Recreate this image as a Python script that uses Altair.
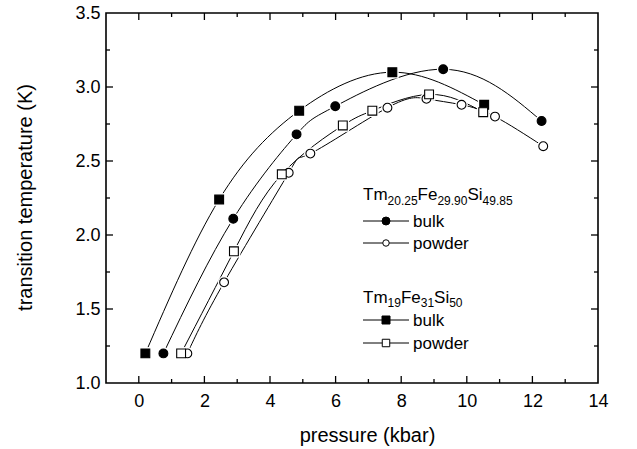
import altair as alt
import pandas as pd

FONT = "Liberation Sans"

# Tm20.25Fe29.90Si49.85
bulk_a_p = [0.75, 2.88, 4.81, 5.99, 9.28, 12.28]
bulk_a_t = [1.20, 2.11, 2.68, 2.87, 3.12, 2.77]
powder_a_p = [1.48, 2.60, 4.57, 5.23, 7.58, 8.77, 9.84, 10.86, 12.33]
powder_a_t = [1.20, 1.68, 2.42, 2.55, 2.86, 2.92, 2.88, 2.80, 2.60]

# Tm19Fe31Si50
bulk_b_p = [0.20, 2.45, 4.89, 7.73, 10.53]
bulk_b_t = [1.20, 2.24, 2.84, 3.10, 2.88]
powder_b_p = [1.29, 2.90, 4.36, 6.22, 7.12, 8.85, 10.50]
powder_b_t = [1.20, 1.89, 2.41, 2.74, 2.84, 2.95, 2.83]

# axis ticks
x_major = [0, 2, 4, 6, 8, 10, 12]
x_minor = [1, 3, 5, 7, 9, 11, 13]
y_major = [1.5, 2.0, 2.5, 3.0]
y_minor = [1.25, 1.75, 2.25, 2.75, 3.25]

W, H = 492, 370

xs = alt.Scale(domain=[-1, 14], nice=False, zero=False)
ys = alt.Scale(domain=[1.0, 3.5], nice=False, zero=False)

x_axis = alt.Axis(values=list(range(0, 15, 2)), tickSize=0, domain=False, grid=False,
                  labelFlush=False, labelOverlap=False,
                  labelFontSize=18, labelFont=FONT, labelColor="black", labelPadding=9,
                  titleFontSize=20, titleFont=FONT, titleColor="black", titleFontWeight="normal",
                  titleX=261, titleY=52, titleAnchor="middle", titleBaseline="middle")
y_axis = alt.Axis(values=[1.0, 1.5, 2.0, 2.5, 3.0, 3.5], format=".1f", tickSize=0, domain=False,
                  grid=False, labelFlush=False, labelOverlap=False,
                  labelFontSize=18, labelFont=FONT, labelColor="black", labelPadding=6,
                  titleFontSize=20, titleFont=FONT, titleColor="black", titleFontWeight="normal",
                  titleX=-81, titleY=184, titleAngle=270, titleAlign="center",
                  titleBaseline="middle")

X = alt.X("p:Q", scale=xs, axis=x_axis, title="pressure (kbar)")
Y = alt.Y("t:Q", scale=ys, axis=y_axis, title="transition temperature (K)")

series = [
    (bulk_a_p, bulk_a_t, "circle", "black"),
    (powder_a_p, powder_a_t, "circle", "white"),
    (bulk_b_p, bulk_b_t, "square", "black"),
    (powder_b_p, powder_b_t, "square", "white"),
]

layers = []
# fitted curves
for p, t, shape, fill in series:
    df = pd.DataFrame({"p": p, "t": t})
    layers.append(alt.Chart(df).mark_line(color="black", strokeWidth=1, interpolate="natural")
                  .encode(x=X, y=Y))
# white halos break the curves around each symbol
for p, t, shape, fill in series:
    df = pd.DataFrame({"p": p, "t": t})
    layers.append(alt.Chart(df).mark_point(shape=shape, filled=True, color="white",
                                           opacity=1, size=160)
                  .encode(x=X, y=Y))
for p, t, shape, fill in series:
    df = pd.DataFrame({"p": p, "t": t})
    layers.append(alt.Chart(df).mark_point(shape=shape, fill=fill, stroke="black",
                                           strokeWidth=1.1, opacity=1, fillOpacity=1, size=78)
                  .encode(x=X, y=Y))

# inward ticks on all four sides
def xticks(vals, length):
    df = pd.DataFrame({"p": vals})
    bottom = alt.Chart(df).mark_rule(color="black", strokeWidth=1.3).encode(
        x=X, y=alt.value(H), y2=alt.value(H - length))
    top = alt.Chart(df).mark_rule(color="black", strokeWidth=1.3).encode(
        x=X, y=alt.value(0), y2=alt.value(length))
    return [bottom, top]

def yticks(vals, length):
    df = pd.DataFrame({"t": vals})
    left = alt.Chart(df).mark_rule(color="black", strokeWidth=1.3).encode(
        y=Y, x=alt.value(0), x2=alt.value(length))
    right = alt.Chart(df).mark_rule(color="black", strokeWidth=1.3).encode(
        y=Y, x=alt.value(W), x2=alt.value(W - length))
    return [left, right]

layers += xticks(x_major, 7) + xticks(x_minor, 4) + yticks(y_major, 7) + yticks(y_minor, 4)

# legend
one = pd.DataFrame({"k": [0]})

def label(txt, x, y, size, baseline="alphabetic"):
    return alt.Chart(one).mark_text(text=txt, align="left", baseline=baseline, fontSize=size,
                                    font=FONT, color="black").encode(
        x=alt.value(x), y=alt.value(y))

def formula(parts, x0, y_main, y_sub):
    # parts: list of (text, is_subscript); glyph widths in em of Liberation Sans
    widths = {"T": 0.611, "m": 0.833, "F": 0.611, "e": 0.556, "S": 0.667, "i": 0.222, ".": 0.278}
    out = []
    x = x0
    for txt, sub in parts:
        size = 12 if sub else 17
        out.append(label(txt, x, y_sub if sub else y_main, size))
        x += sum(widths.get(c, 0.556) for c in txt) * size
    return out

LX = 257
layers += formula([("Tm", 0), ("20.25", 1), ("Fe", 0), ("29.90", 1), ("Si", 0), ("49.85", 1)],
                  LX, 187, 192)
layers += formula([("Tm", 0), ("19", 1), ("Fe", 0), ("31", 1), ("Si", 0), ("50", 1)],
                  LX, 290, 294)

legend_rows = [
    ("bulk", 208, "circle", "black", 64),
    ("powder", 230, "circle", "white", 42),
    ("bulk", 307, "square", "black", 64),
    ("powder", 330, "square", "white", 56),
]
for txt, y, shape, fill, size in legend_rows:
    layers.append(alt.Chart(one).mark_rule(color="black", strokeWidth=1).encode(
        x=alt.value(LX), x2=alt.value(LX + 46), y=alt.value(y)))
    layers.append(alt.Chart(one).mark_point(shape=shape, fill=fill, stroke="black",
                                            strokeWidth=1, opacity=1, fillOpacity=1,
                                            size=size).encode(
        x=alt.value(LX + 23), y=alt.value(y)))
    layers.append(label(txt, LX + 50, y + 1, 17, baseline="middle"))

chart = alt.layer(*layers).properties(
    width=W, height=H,
    autosize=alt.AutoSizeParams(type="none"),
    padding={"left": 106, "top": 13, "right": 39, "bottom": 66},
    background="white",
).configure_view(stroke="black", strokeWidth=1.6)

chart.save("out.html", embed_options={"renderer": "svg", "actions": False})
